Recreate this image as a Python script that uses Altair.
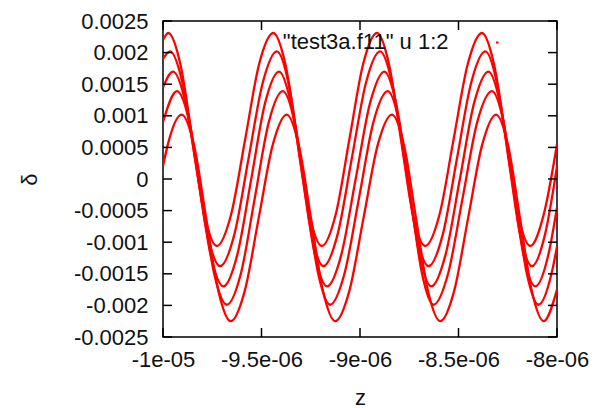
import altair as alt
import pandas as pd

# axis ticks and labels (gnuplot style)
x_ticks = [-1e-05, -9.5e-06, -9e-06, -8.5e-06, -8e-06]
x_tick_labels = ["-1e-05", "-9.5e-06", "-9e-06", "-8.5e-06", "-8e-06"]
y_ticks = [0.0025, 0.002, 0.0015, 0.001, 0.0005, 0.0, -0.0005, -0.001, -0.0015, -0.002, -0.0025]
y_tick_labels = ["0.0025", "0.002", "0.0015", "0.001", "0.0005", "0",
                 "-0.0005", "-0.001", "-0.0015", "-0.002", "-0.0025"]

# points (z in units of 1e-6)
z1 = [-10.000, -9.973, -9.912, -9.850, -9.789, -9.727, -9.655, -9.583, -9.512, -9.440, -9.379,
      -9.317, -9.256, -9.194, -9.124, -9.054, -8.984, -8.914, -8.853, -8.792, -8.731, -8.669,
      -8.597, -8.525, -8.453, -8.381, -8.320, -8.258, -8.197, -8.136, -8.068, -8.000]
d1 = [0.0022, 0.00231, 0.00182, 0.000625, -0.00057, -0.00106, -0.00057, 0.000625, 0.00182,
      0.00231, 0.00182, 0.000625, -0.00057, -0.00106, -0.00057, 0.000625, 0.00182,
      0.00231, 0.00182, 0.000625, -0.00057, -0.00106, -0.00057, 0.000625, 0.00182,
      0.00231, 0.00182, 0.000625, -0.00057, -0.00106, -0.00057, 0.00055]

z2 = [-10.000, -9.964, -9.901, -9.837, -9.774, -9.710, -9.638, -9.566, -9.494, -9.422, -9.363,
      -9.304, -9.245, -9.186, -9.114, -9.042, -8.970, -8.898, -8.837, -8.775, -8.714, -8.652,
      -8.580, -8.508, -8.436, -8.364, -8.305, -8.246, -8.187, -8.127, -8.061, -8.000]
d2 = [0.0019, 0.00202, 0.00152, 0.00032, -0.00088, -0.00138, -0.00088, 0.00032, 0.00152,
      0.00202, 0.00152, 0.00032, -0.00088, -0.00138, -0.00088, 0.00032, 0.00152,
      0.00202, 0.00152, 0.00032, -0.00088, -0.00138, -0.00088, 0.00032, 0.00152,
      0.00202, 0.00152, 0.00032, -0.00088, -0.00138, -0.00088, 0.0002]

z3 = [-10.000, -9.949, -9.885, -9.821, -9.758, -9.694, -9.623, -9.552, -9.482, -9.411, -9.351,
      -9.290, -9.229, -9.168, -9.095, -9.022, -8.949, -8.876, -8.817, -8.757, -8.698, -8.639,
      -8.566, -8.493, -8.421, -8.348, -8.289, -8.229, -8.170, -8.110, -8.044, -8.000]
d3 = [0.00145, 0.0017, 0.0012, 0.0, -0.0012, -0.0017, -0.0012, 0.0, 0.0012,
      0.0017, 0.0012, 0.0, -0.0012, -0.0017, -0.0012, 0.0, 0.0012,
      0.0017, 0.0012, 0.0, -0.0012, -0.0017, -0.0012, 0.0, 0.0012,
      0.0017, 0.0012, 0.0, -0.0012, -0.0017, -0.0012, -0.00045]

z4 = [-10.000, -9.929, -9.866, -9.803, -9.740, -9.676, -9.605, -9.534, -9.463, -9.392, -9.332,
      -9.272, -9.212, -9.152, -9.079, -9.005, -8.932, -8.859, -8.801, -8.743, -8.685, -8.627,
      -8.553, -8.479, -8.405, -8.330, -8.271, -8.212, -8.153, -8.094, -8.028, -8.000]
d4 = [0.0009, 0.00139, 0.0009, -0.0003, -0.0015, -0.00199, -0.0015, -0.0003, 0.0009,
      0.00139, 0.0009, -0.0003, -0.0015, -0.00199, -0.0015, -0.0003, 0.0009,
      0.00139, 0.0009, -0.0003, -0.0015, -0.00199, -0.0015, -0.0003, 0.0009,
      0.00139, 0.0009, -0.0003, -0.0015, -0.00199, -0.0015, -0.00107]

z5 = [-10.000, -9.976, -9.905, -9.843, -9.781, -9.719, -9.656, -9.585, -9.514, -9.443, -9.372,
      -9.311, -9.249, -9.188, -9.126, -9.054, -8.982, -8.910, -8.838, -8.777, -8.716, -8.655,
      -8.593, -8.522, -8.451, -8.380, -8.309, -8.249, -8.188, -8.128, -8.068, -8.000]
d5 = [0.0002, 0.00054, 0.00102, 0.00054, -0.000615, -0.00177, -0.00225, -0.00177, -0.000615,
      0.00054, 0.00102, 0.00054, -0.000615, -0.00177, -0.00225, -0.00177, -0.000615,
      0.00054, 0.00102, 0.00054, -0.000615, -0.00177, -0.00225, -0.00177, -0.000615,
      0.00054, 0.00102, 0.00054, -0.000615, -0.00177, -0.00225, -0.00175]

key_label = '"test3a.f11" u 1:2'

rows = []
for name, zs, ds in [("c1", z1, d1), ("c2", z2, d2), ("c3", z3, d3), ("c4", z4, d4), ("c5", z5, d5)]:
    for z, d in zip(zs, ds):
        rows.append({"z": z * 1e-6, "delta": d, "curve": name})
df = pd.DataFrame(rows)

W, H = 394, 316
FONT = "Liberation Sans"


def label_expr(vals, labs, tol):
    parts = [f"abs(datum.value - ({v!r})) < {tol} ? '{l}'" for v, l in zip(vals, labs)]
    return " : ".join(parts) + " : ''"


xscale = alt.Scale(domain=[-1e-05, -8e-06], nice=False, zero=False)
yscale = alt.Scale(domain=[-0.0025, 0.0025], nice=False, zero=False)

x_axis = alt.Axis(
    values=x_ticks, labelExpr=label_expr(x_ticks, x_tick_labels, 1e-12),
    title="z", labelPadding=12, labelFlush=False, labelOverlap=False, labelAngle=0,
    titleY=60, titleBaseline="middle", titleAlign="center", titleX=W / 2)
y_axis = alt.Axis(
    values=y_ticks, labelExpr=label_expr(y_ticks, y_tick_labels, 1e-8),
    title="δ", labelPadding=15, labelOverlap=False, labelFlush=False,
    titleX=-134, titleY=H / 2, titleAngle=270, titleAlign="center",
    titleBaseline="middle")

lines = alt.Chart(df).mark_line(
    color="#ff0000", strokeWidth=2.3, interpolate="monotone", clip=True
).encode(
    x=alt.X("z:Q", scale=xscale, axis=x_axis),
    y=alt.Y("delta:Q", scale=yscale, axis=y_axis),
    detail="curve:N",
)

xt = pd.DataFrame({"z": x_ticks})
yt = pd.DataFrame({"delta": y_ticks})

tick_style = dict(color="black", strokeWidth=1.5)
xb = alt.Chart(xt).mark_rule(**tick_style).encode(
    x=alt.X("z:Q", scale=xscale, axis=x_axis), y=alt.value(H), y2=alt.value(H - 9))
xtop = alt.Chart(xt).mark_rule(**tick_style).encode(
    x=alt.X("z:Q", scale=xscale, axis=x_axis), y=alt.value(0), y2=alt.value(9))
yl = alt.Chart(yt).mark_rule(**tick_style).encode(
    y=alt.Y("delta:Q", scale=yscale, axis=y_axis), x=alt.value(0), x2=alt.value(9))
yr = alt.Chart(yt).mark_rule(**tick_style).encode(
    y=alt.Y("delta:Q", scale=yscale, axis=y_axis), x=alt.value(W - 9), x2=alt.value(W))

key_text = alt.Chart(pd.DataFrame({"t": [key_label]})).mark_text(
    align="right", baseline="middle", font=FONT, fontSize=22, color="#111"
).encode(text="t:N", x=alt.value(285.5), y=alt.value(21))

key_dot = alt.Chart(pd.DataFrame({"t": [key_label]})).mark_rule(
    color="#ff0000", strokeWidth=2
).encode(x=alt.value(333), x2=alt.value(335.5), y=alt.value(21.5))

chart = alt.layer(lines, xb, xtop, yl, yr, key_text, key_dot).properties(
    width=W, height=H,
    padding={"left": 163, "top": 21, "right": 38, "bottom": 71},
    autosize=alt.AutoSizeParams(type="none"),
    background="white",
).configure_view(
    stroke="black", strokeWidth=1.5
).configure_axis(
    domain=False, ticks=False, grid=False,
    labelFont=FONT, labelFontSize=22, labelColor="#111",
    titleFont=FONT, titleFontSize=22, titleFontWeight="normal", titleColor="#111",
)

chart.save("out.html", embed_options={"renderer": "svg", "actions": False})
